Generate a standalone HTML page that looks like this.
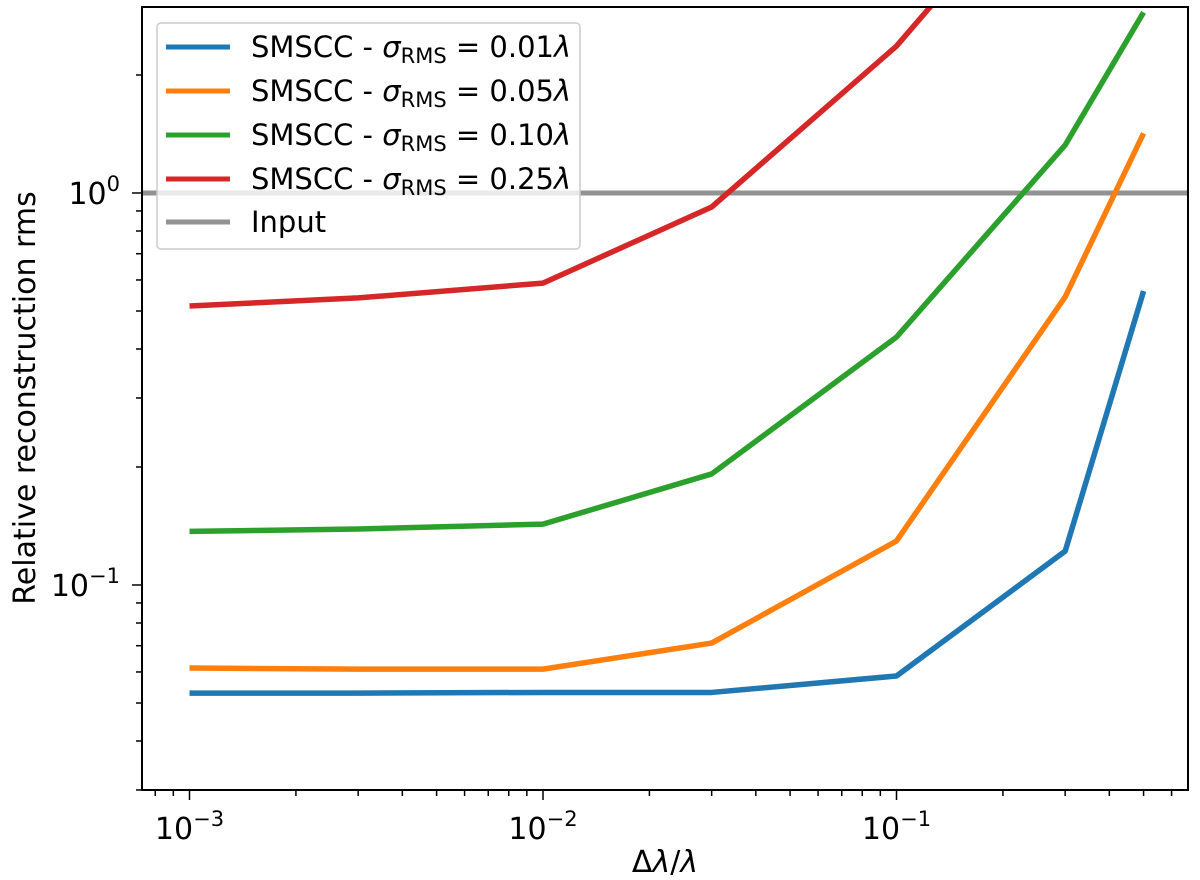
<!DOCTYPE html>
<html><head><meta charset="utf-8"><style>
body{margin:0;background:#fff}
svg{display:block;font-family:"DejaVu Sans","Liberation Sans",sans-serif}
</style></head><body>
<svg id="chart" width="1200" height="880" viewBox="0 0 1200 880" xmlns="http://www.w3.org/2000/svg">
<defs><clipPath id="clip"><rect x="142" y="7" width="1046" height="783"/></clipPath></defs>
<g id="series" clip-path="url(#clip)"></g>
<g id="axes"></g>
<g id="legend"></g>
</svg>
<script>
const xValues=[0.001,0.003,0.01,0.03,0.1,0.3,0.5];
const blue=[0.053,0.053,0.0532,0.0532,0.0586,0.122,0.562];
const orange=[0.0614,0.061,0.061,0.0711,0.1295,0.543,1.42];
const green=[0.137,0.139,0.143,0.192,0.429,1.325,2.89];
const red=[0.515,0.54,0.589,0.921,2.37,7.5,15];
const inputLevel=1.0;
const seriesNames=["0.01","0.05","0.10","0.25"];
const colors=["#1f77b4","#ff7f0e","#2ca02c","#d62728"];
const xTickLabels=["-3","-2","-1"];
const yTickLabels=["-1","0"];
const NS="http://www.w3.org/2000/svg";
const L=142,R=1188,T=7,B=790;
function X(v){return 189.5+(Math.log10(v)+3)*353.5;}
function Y(v){return 193-Math.log10(v)*392;}
function mk(tag,attrs,parent){const e=document.createElementNS(NS,tag);for(const k in attrs)e.setAttribute(k,attrs[k]);parent.appendChild(e);return e;}
const sg=document.getElementById('series'),ag=document.getElementById('axes'),lg=document.getElementById('legend');
let il=mk('line',{x1:L,x2:R,y1:Y(inputLevel),y2:Y(inputLevel),stroke:'#929292','stroke-width':5},sg);


[blue,orange,green,red].forEach((s,i)=>{
 const p=mk('polyline',{points:s.map((v,j)=>X(xValues[j])+','+Y(v)).join(' '),fill:'none',stroke:colors[i],'stroke-width':5.5,'stroke-linejoin':'round'},sg);
 
 
});
let fr=mk('rect',{x:L,y:T,width:R-L,height:B-T,fill:'none',stroke:'#000','stroke-width':2},ag);


for(let d=-4;d<=0;d++){for(let m=1;m<10;m++){const v=m*Math.pow(10,d);const x=X(v);if(x<L||x>R)continue;
 mk('line',{x1:x,x2:x,y1:B,y2:B+(m==1?10:6),stroke:'#000','stroke-width':1.5},ag);}}
xTickLabels.forEach(e=>{const x=X(Math.pow(10,+e));
 const t=mk('text',{x:x,y:839,'font-size':30,'text-anchor':'middle'},ag);
 
 
 t.innerHTML='10<tspan dy="-13" font-size="21">−'+e.slice(1)+'</tspan>';});
for(let d=-2;d<=0;d++){for(let m=1;m<10;m++){const v=m*Math.pow(10,d);const y=Y(v);if(y<T-0.5||y>B+0.5)continue;
 mk('line',{x1:L,x2:L-(m==1?10:6),y1:y,y2:y,stroke:'#000','stroke-width':1.5},ag);}}
yTickLabels.forEach(e=>{const y=Y(Math.pow(10,+e));
 const t=mk('text',{x:120,y:y+11,'font-size':30,'text-anchor':'end'},ag);
 
 
 t.innerHTML=e=="0"?'10<tspan dy="-13" font-size="21">0</tspan>':'10<tspan dy="-13" font-size="21">−1</tspan>';});
let xl=mk('text',{x:665,y:872,'font-size':30,'text-anchor':'middle'},ag);
xl.innerHTML='Δ<tspan font-style="italic">λ</tspan>/<tspan font-style="italic">λ</tspan>';


let yl=mk('text',{x:0,y:0,'font-size':30,'text-anchor':'middle',transform:'translate(35,398) rotate(-90)'},ag);
yl.textContent='Relative reconstruction rms';


let lb=mk('rect',{x:157,y:23,width:423,height:226,rx:4,fill:'#fff','fill-opacity':0.8,stroke:'#ccc','stroke-width':1.5},lg);


const ly=[47,91,135,179,222];
for(let i=0;i<5;i++){
 const g=mk('g',{},lg);
 
 
 mk('line',{x1:166,x2:230,y1:ly[i],y2:ly[i],stroke:i<4?colors[i]:'#929292','stroke-width':5},g);
 const t=mk('text',{x:251,y:ly[i]+10,'font-size':29},g);
 t.innerHTML=i<4?'SMSCC - <tspan font-style="italic">σ</tspan><tspan font-size="21" dy="6">RMS</tspan><tspan dy="-6"> = '+seriesNames[i]+'</tspan><tspan font-style="italic">λ</tspan>':'Input';
}
</script>
</body></html>
